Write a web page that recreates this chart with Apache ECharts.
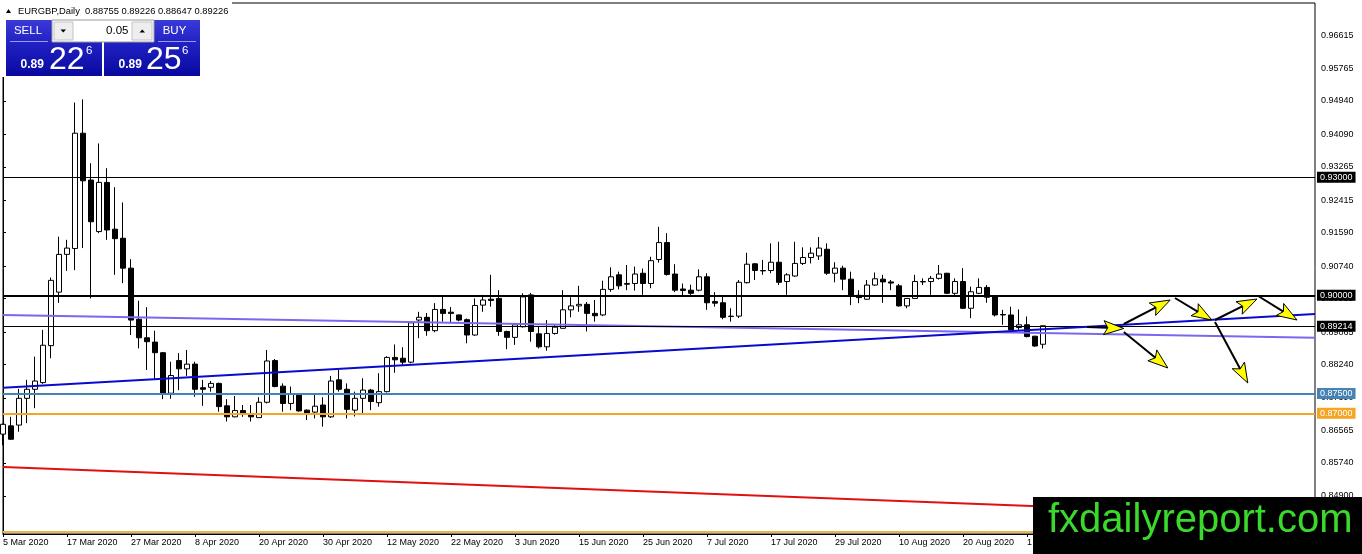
<!DOCTYPE html>
<html><head><meta charset="utf-8">
<script src="https://cdn.jsdelivr.net/npm/echarts@6/dist/echarts.min.js"></script>
<style>html,body{margin:0;padding:0;background:#fff}#c{width:1362px;height:554px}</style>
</head><body><div id="c"></div><script>
// ---- data (EURGBP daily, from 5 Mar 2020) ----
const opens = [
.8647,.8668,.8670,.8738,.8761,.8778,.8872,.9008,.9104,.9119,
.9412,.9293,.9162,.9287,.9168,.9145,.9069,.8939,.8892,.8881,
.8854,.8751,.8834,.8813,.8825,.8765,.8766,.8776,.8719,.8691,
.8707,.8698,.8689,.8728,.8834,.8769,.8725,.8748,.8708,.8703,
.8721,.8691,.8785,.8761,.8708,.8738,.8759,.8727,.8755,.8842,
.8840,.8830,.8937,.8944,.8910,.8964,.8957,.8950,.8938,.8899,
.8975,.8990,.8992,.8908,.8893,.8920,.9001,.8902,.8869,.8903,
.8916,.8963,.8973,.8977,.8954,.8950,.9015,.9052,.9028,.9030,
.9056,.9030,.9091,.9134,.9054,.9016,.9013,.9013,.9047,.8984,
.8981,.8946,.8947,.9032,.9080,.9062,.9063,.9084,.9035,.9049,
.9081,.9096,.9100,.9117,.9056,.9069,.9041,.9000,.8990,.9026,
.9041,.9034,.9024,.8973,.8992,.9034,.9035,.9043,.9056,.9005,
.9035,.8967,.9005,.9020,.8996,.8951,.8950,.8918,.8925,.8896,
.88755];
const highs = [
.8674,.8691,.8762,.8785,.8844,.8912,.9045,.9149,.9141,.9490,
.9498,.9336,.9386,.9323,.9275,.9236,.9092,.8986,.8970,.8910,
.8856,.8831,.8853,.8861,.8831,.8785,.8782,.8778,.8736,.8744,
.8721,.8721,.8741,.8861,.8838,.8776,.8768,.8750,.8710,.8749,
.8741,.8795,.8810,.8776,.8755,.8789,.8762,.8802,.8845,.8875,
.8868,.8932,.8958,.8955,.8980,.8996,.8970,.8951,.8941,.8992,
.9001,.9052,.9013,.8910,.8926,.9005,.9006,.8922,.8937,.8927,
.9013,.8995,.9024,.8983,.8988,.9037,.9071,.9060,.9077,.9073,
.9068,.9098,.9174,.9158,.9079,.9030,.9027,.9066,.9056,.9008,
.8996,.8967,.9039,.9108,.9082,.9090,.9132,.9136,.9056,.9136,
.9122,.9122,.9148,.9132,.9084,.9075,.9060,.9013,.9039,.9058,
.9052,.9039,.9029,.8993,.9052,.9043,.9049,.9077,.9057,.9043,
.9069,.9022,.9043,.9026,.8997,.8963,.8971,.8964,.8946,.8897,
.89226];
const lows = [
.8619,.8632,.8653,.8675,.8713,.8775,.8840,.8981,.9062,.9064,
.9120,.8992,.9158,.9141,.9052,.9031,.8899,.8865,.8810,.8785,
.8736,.8737,.8759,.8795,.8742,.8719,.8755,.8704,.8679,.8690,
.8691,.8679,.8689,.8725,.8766,.8704,.8708,.8704,.8683,.8687,
.8666,.8688,.8755,.8687,.8692,.8700,.8708,.8717,.8753,.8803,
.8823,.8827,.8891,.8897,.8906,.8933,.8929,.8934,.8878,.8897,
.8958,.8971,.8897,.8863,.8874,.8918,.8882,.8865,.8859,.8900,
.8915,.8944,.8958,.8908,.8933,.8947,.9009,.9015,.9013,.9012,
.9001,.9018,.9083,.9050,.9008,.9000,.9001,.9010,.8963,.8971,
.8939,.8933,.8942,.9030,.9039,.9052,.9056,.9026,.9001,.9047,
.9077,.9081,.9090,.9052,.9033,.9013,.8975,.8980,.8988,.9024,
.8981,.9013,.8971,.8967,.8991,.9026,.9001,.9040,.9003,.9001,
.8965,.8942,.9003,.8981,.8946,.8925,.8910,.8912,.8893,.8869,
.88647];
const closes = [
.8672,.8634,.8738,.8761,.8782,.8873,.9038,.9104,.9120,.9412,
.9291,.9187,.9287,.9166,.9144,.9069,.8937,.8892,.8882,.8854,
.8751,.8796,.8813,.8825,.8761,.8761,.8776,.8717,.8691,.8707,
.8700,.8691,.8728,.8833,.8768,.8725,.8748,.8706,.8700,.8718,
.8691,.8782,.8761,.8710,.8738,.8759,.8730,.8755,.8842,.8836,
.8830,.8930,.8944,.8910,.8964,.8954,.8954,.8937,.8899,.8974,
.8988,.8987,.8908,.8893,.8925,.8996,.8908,.8869,.8903,.8919,
.8963,.8973,.8977,.8954,.8948,.9015,.9047,.9024,.9030,.9054,
.9030,.9088,.9134,.9053,.9013,.9012,.9005,.9047,.8981,.8980,
.8944,.8947,.9033,.9079,.9063,.9063,.9084,.9033,.9052,.9081,
.9096,.9107,.9120,.9056,.9069,.9041,.9001,.8994,.9026,.9042,
.9034,.9031,.8973,.8992,.9035,.9035,.9043,.9054,.9005,.9035,
.8967,.9009,.9020,.8995,.8950,.8950,.8912,.8925,.8895,.8871,
.89226];
const symbolName = 'EURGBP,Daily';
const barCount = 165;           // daily slots incl. empty future space
const firstDay = [2020, 2, 5];  // 5 Mar 2020
const yTickValues = [0.96615,0.95765,0.94940,0.94090,0.93265,0.92415,0.91590,0.90740,0.89915,0.89065,0.88240,0.87390,0.86565,0.85740,0.84900];
const levelValues = [0.93000, 0.90000, 0.89214, 0.87500, 0.87000, 0.84000];
const trendX = [0, 164];
const trendRed = [0.85632, 0.84369];
const trendBlue = [0.87648, 0.89523];
const trendPurple = [0.89498, 0.88922];
// arrows: [xFrom, priceFrom, xTo, priceTo]
const arrows = [
  [135.5, 0.89194, 140.1, 0.89156],
  [140.1, 0.89270, 145.9, 0.89880],
  [140.1, 0.89067, 145.6, 0.88152],
  [146.5, 0.89931, 151.1, 0.89372],
  [151.5, 0.89372, 156.75, 0.89906],
  [151.5, 0.89321, 155.6, 0.87770],
  [156.9, 0.89982, 161.75, 0.89372]
];
const bidParts = ['0.89', '22', '6'];
const askParts = ['0.89', '25', '6'];
const lotSize = '0.05';
const watermarkText = 'fxdailyreport.com';

// ---- categories (trading days, Mon-Fri) ----
const months = ['Jan','Feb','Mar','Apr','May','Jun','Jul','Aug','Sep','Oct','Nov','Dec'];
const categories = [];
{
  const d = new Date(Date.UTC(firstDay[0], firstDay[1], firstDay[2]));
  while (categories.length < barCount) {
    const wd = d.getUTCDay();
    if (wd !== 0 && wd !== 6) categories.push(d.getUTCDate() + ' ' + months[d.getUTCMonth()] + ' ' + d.getUTCFullYear());
    d.setUTCDate(d.getUTCDate() + 1);
  }
}
const candles = opens.map((o, i) => [o, closes[i], lows[i], highs[i]]);
const last = candles.length - 1;
const headerText = symbolName + '  ' + [opens[last], highs[last], lows[last], closes[last]].map(v => v.toFixed(5)).join(' ');

const levelColors = ['#000000','#000000','#000000','#4682B4','#F5A524','#EEB545'];
const levelWidths = [1, 2, 1, 2, 2, 2];
const levelLabels = [true, true, true, true, true, false];

const FONT = '"Liberation Sans", Arial, sans-serif';
const chart = echarts.init(document.getElementById('c'));
const blueGrad = new echarts.graphic.LinearGradient(0, 0, 0, 1, [
  {offset: 0, color: '#3a3ad9'}, {offset: 0.4, color: '#2222c4'}, {offset: 1, color: '#0808a0'}]);

function arrowItem(params, api) {
  const p1 = api.coord([api.value(0), api.value(1)]);
  const p2 = api.coord([api.value(2), api.value(3)]);
  const dx = p2[0] - p1[0], dy = p2[1] - p1[1];
  const len = Math.hypot(dx, dy) || 1;
  const ux = dx / len, uy = dy / len;
  const hl = 20, hw = 7;
  const bx = p2[0] - ux * hl, by = p2[1] - uy * hl;
  return {
    type: 'group',
    children: [
      {type: 'line', shape: {x1: p1[0], y1: p1[1], x2: bx + ux * 4, y2: by + uy * 4}, style: {stroke: '#000', lineWidth: 2}},
      {type: 'polygon', shape: {points: [[p2[0], p2[1]], [bx - uy * hw, by + ux * hw], [bx + ux * 4, by + uy * 4], [bx + uy * hw, by - ux * hw]]},
       style: {fill: '#FFFF00', stroke: '#000', lineWidth: 1}}
    ]
  };
}

const option = {
  animation: false,
  backgroundColor: '#ffffff',
  textStyle: {fontFamily: FONT},
  grid: {left: 3, right: 47, top: 3, bottom: 20, show: true, borderColor: '#000', borderWidth: 1, backgroundColor: 'transparent'},
  xAxis: [
    {type: 'category', data: categories, boundaryGap: false,
     axisLine: {show: true, lineStyle: {color: '#000', width: 1}},
     axisTick: {show: true, interval: 7, length: 3, lineStyle: {color: '#000'}},
     axisLabel: {interval: 7, align: 'left', color: '#000', fontSize: 9, margin: 4, fontFamily: FONT},
     splitLine: {show: false}},
    {type: 'value', min: 0, max: barCount - 1, show: false}
  ],
  yAxis: {
    type: 'value', position: 'right', min: 0.83931, max: 0.97431, scale: true,
    splitLine: {show: false},
    axisLine: {show: true, lineStyle: {color: '#000'}},
    axisTick: {show: true, length: 3, customValues: yTickValues, lineStyle: {color: '#000'}},
    axisLabel: {customValues: yTickValues, formatter: v => v.toFixed(5), color: '#000', fontSize: 9, margin: 6, fontFamily: FONT}
  },
  series: [
    {type: 'line', xAxisIndex: 1, data: trendX.map((x, i) => [x, trendRed[i]]), symbol: 'none', silent: true, z: 3,
     lineStyle: {color: '#E01010', width: 2}},
    {type: 'line', xAxisIndex: 1, data: trendX.map((x, i) => [x, trendPurple[i]]), symbol: 'none', silent: true, z: 3,
     lineStyle: {color: '#7B68EE', width: 2}},
    {type: 'candlestick', data: candles, barWidth: 5, clip: true, z: 2,
     itemStyle: {color: '#ffffff', color0: '#000000', borderColor: '#000000', borderColor0: '#000000', borderWidth: 1}},
    {type: 'line', data: [], z: 4, silent: true,
     markLine: {silent: true, symbol: 'none', animation: false, precision: 5,
       data: levelValues.map((v, i) => ({
         yAxis: v,
         lineStyle: {color: levelColors[i], width: levelWidths[i], type: 'solid'},
         label: {show: levelLabels[i], position: 'end', formatter: v.toFixed(5), color: '#fff',
                 backgroundColor: levelColors[i], padding: [1, 3, 1, 3], fontSize: 9, distance: 2, fontFamily: FONT}
       }))}},
    {type: 'line', xAxisIndex: 1, data: trendX.map((x, i) => [x, trendBlue[i]]), symbol: 'none', silent: true, z: 5,
     lineStyle: {color: '#0A0ACD', width: 2}},
    {type: 'custom', xAxisIndex: 1, data: arrows, renderItem: arrowItem, z: 6, silent: true,
     encode: {x: [0, 2], y: [1, 3]}, clip: false}
  ],
  graphic: [
    {type: 'rect', z: 50, shape: {x: 0, y: 0, width: 232, height: 18}, style: {fill: '#fff'}},
    {type: 'rect', z: 50, shape: {x: 0, y: 18, width: 203, height: 59}, style: {fill: '#fff'}},
    {type: 'polygon', z: 51, shape: {points: [[6, 13], [8.5, 9], [11, 13]]}, style: {fill: '#000'}},
    {type: 'text', z: 51, x: 18, y: 11, style: {text: headerText, fill: '#000', font: '9.4px ' + FONT, align: 'left', verticalAlign: 'middle'}},
    {type: 'rect', z: 51, shape: {x: 6, y: 20, width: 96, height: 56}, style: {fill: blueGrad}},
    {type: 'rect', z: 51, shape: {x: 104, y: 20, width: 96, height: 56}, style: {fill: blueGrad}},
    {type: 'line', z: 52, shape: {x1: 10, y1: 41.5, x2: 48, y2: 41.5}, style: {stroke: 'rgba(255,255,255,0.55)', lineWidth: 1}},
    {type: 'line', z: 52, shape: {x1: 158, y1: 41.5, x2: 196, y2: 41.5}, style: {stroke: 'rgba(255,255,255,0.55)', lineWidth: 1}},
    {type: 'rect', z: 52, shape: {x: 52, y: 20, width: 102, height: 22}, style: {fill: '#fff', stroke: '#9a9a9a', lineWidth: 1}},
    {type: 'rect', z: 53, shape: {x: 54, y: 22, width: 19, height: 18}, style: {fill: '#eeeeee', stroke: '#c4c4c4', lineWidth: 1}},
    {type: 'rect', z: 53, shape: {x: 132, y: 22, width: 20, height: 18}, style: {fill: '#eeeeee', stroke: '#c4c4c4', lineWidth: 1}},
    {type: 'polygon', z: 54, shape: {points: [[60.5, 29.5], [66, 29.5], [63.25, 32.5]]}, style: {fill: '#000'}},
    {type: 'polygon', z: 54, shape: {points: [[139.5, 32.5], [145, 32.5], [142.25, 29.5]]}, style: {fill: '#000'}},
    {type: 'text', z: 54, x: 128.5, y: 31, style: {text: lotSize, fill: '#000', font: '11.5px ' + FONT, align: 'right', verticalAlign: 'middle'}},
    {type: 'text', z: 54, x: 28, y: 31, style: {text: 'SELL', fill: '#fff', font: '11.5px ' + FONT, align: 'center', verticalAlign: 'middle'}},
    {type: 'text', z: 54, x: 174.5, y: 31, style: {text: 'BUY', fill: '#fff', font: '11.5px ' + FONT, align: 'center', verticalAlign: 'middle'}},
    {type: 'text', z: 54, x: 20.5, y: 65, style: {text: bidParts[0], fill: '#fff', font: 'bold 12px ' + FONT, align: 'left', verticalAlign: 'middle'}},
    {type: 'text', z: 54, x: 49, y: 60, style: {text: bidParts[1], fill: '#fff', font: '32px ' + FONT, align: 'left', verticalAlign: 'middle'}},
    {type: 'text', z: 54, x: 86, y: 51, style: {text: bidParts[2], fill: '#fff', font: '11.5px ' + FONT, align: 'left', verticalAlign: 'middle'}},
    {type: 'text', z: 54, x: 118.5, y: 65, style: {text: askParts[0], fill: '#fff', font: 'bold 12px ' + FONT, align: 'left', verticalAlign: 'middle'}},
    {type: 'text', z: 54, x: 146, y: 60, style: {text: askParts[1], fill: '#fff', font: '32px ' + FONT, align: 'left', verticalAlign: 'middle'}},
    {type: 'text', z: 54, x: 182, y: 51, style: {text: askParts[2], fill: '#fff', font: '11.5px ' + FONT, align: 'left', verticalAlign: 'middle'}},
    {type: 'rect', z: 100, shape: {x: 1033, y: 497, width: 329, height: 57}, style: {fill: '#000'}},
    {type: 'text', z: 101, x: 1048, y: 521, style: {text: watermarkText, fill: '#3BD92B', font: '40px ' + FONT, align: 'left', verticalAlign: 'middle'}}
  ]
};
chart.setOption(option);
</script></body></html>
